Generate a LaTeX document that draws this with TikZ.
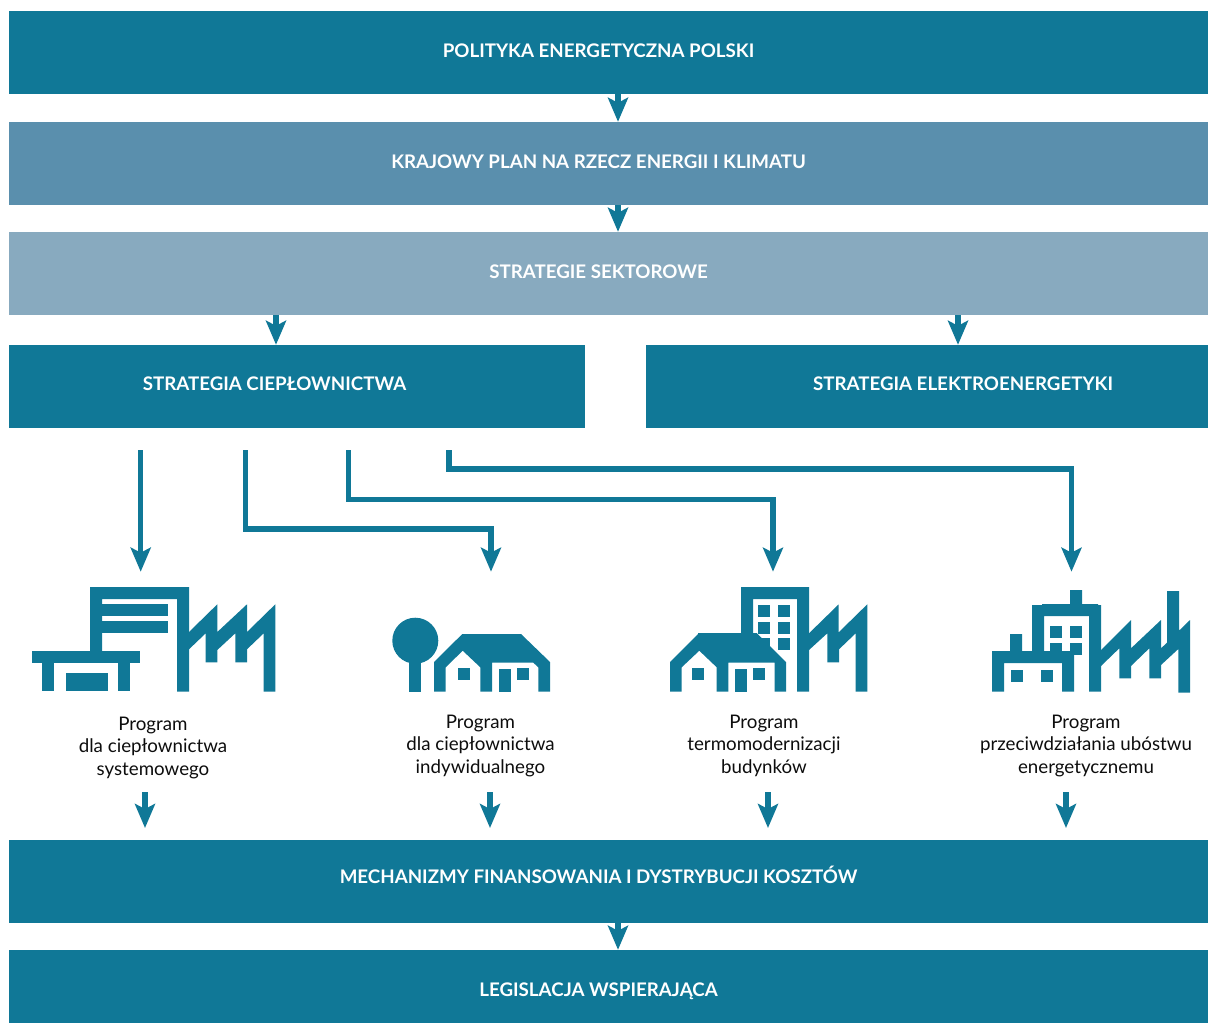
\documentclass[tikz,border=0pt]{standalone}
\usepackage{fontspec}
\setmainfont{Lato}
\usetikzlibrary{arrows.meta}
\definecolor{tealA}{HTML}{107897}
\definecolor{tealB}{HTML}{5A8FAD}
\definecolor{tealC}{HTML}{88AABF}
\tikzset{
  bandbox/.style={rectangle,draw=none,inner sep=0pt,minimum height=83bp,fill=tealA},
  headtext/.style={text=white,font=\fontsize{18.8}{22}\selectfont\bfseries,inner sep=0pt},
  progtext/.style={text=black!95,align=center,font=\fontsize{18.8}{22.6}\selectfont,inner sep=0pt},
  flow/.style={draw=tealA,line width=5.2bp,-{Stealth[length=24bp,width=20bp,inset=5bp]}},
  icon/.style={fill=tealA,draw=none}
}
\begin{document}
\begin{tikzpicture}[x=1bp,y=-1bp]
\useasboundingbox (0,0) rectangle (1208,1023);
% bands
\node[bandbox,minimum width=1199bp] (polityka) at (608.5,52.5) {};
\node[bandbox,minimum width=1199bp,fill=tealB] (krajowy) at (608.5,163.5) {};
\node[bandbox,minimum width=1199bp,fill=tealC] (sektor) at (608.5,273.5) {};
\node[bandbox,minimum width=576bp] (cieplo) at (297,386.5) {};
\node[bandbox,minimum width=562bp] (elektro) at (927,386.5) {};
\node[bandbox,minimum width=1199bp] (mechanizmy) at (608.5,881.5) {};
\node[bandbox,minimum width=1199bp,minimum height=73bp] (legislacja) at (608.5,986.5) {};
% band texts
\node[headtext] (t1) at (598.5,50.5) {POLITYKA ENERGETYCZNA POLSKI};
\node[headtext] (t2) at (598.5,161.5) {KRAJOWY PLAN NA RZECZ ENERGII I KLIMATU};
\node[headtext] (t3) at (598.5,271.5) {STRATEGIE SEKTOROWE};
\node[headtext] (t4) at (274.5,383.5) {STRATEGIA CIEPŁOWNICTWA};
\node[headtext] (t5) at (963,383.5) {STRATEGIA ELEKTROENERGETYKI};
\node[headtext] (t6) at (598.5,874.5) {MECHANIZMY FINANSOWANIA I DYSTRYBUCJI KOSZTÓW};
\node[headtext] (t7) at (598.5,991) {LEGISLACJA WSPIERAJĄCA};
% program texts
\node[progtext] (p1) at (153,747.6) {Program\\dla ciepłownictwa\\systemowego};
\node[progtext] (p2) at (480.5,745.6) {Program\\dla ciepłownictwa\\indywidualnego};
\node[progtext] (p3) at (764,745.6) {Program\\termomodernizacji\\budynków};
\node[progtext] (p4) at (1086,745.6) {Program\\przeciwdziałania ubóstwu\\energetycznemu};
% helper coordinates
\coordinate (main) at (618,0);
\coordinate (left) at (276,0);
\coordinate (right) at (958,0);
\coordinate (s1) at (140.7,450); \coordinate (e1) at (140.7,571.7);
\coordinate (s2) at (245.7,450); \coordinate (e2) at (491,571.7);
\coordinate (s3) at (348.3,450); \coordinate (e3) at (773,571.7);
\coordinate (s4) at (449,450);   \coordinate (e4) at (1071.5,571.7);
\coordinate (d1s) at (145,792); \coordinate (d1e) at (145,828);
\coordinate (d2s) at (490,792); \coordinate (d2e) at (490,828);
\coordinate (d3s) at (768,792); \coordinate (d3e) at (768,828);
\coordinate (d4s) at (1066,792); \coordinate (d4e) at (1066,828);
% connectors
\draw[flow] (polityka.south -| main) -- (krajowy.north -| main);
\draw[flow] (krajowy.south -| main) -- (sektor.north -| main);
\draw[flow] (sektor.south -| left) -- (cieplo.north -| left);
\draw[flow] (sektor.south -| right) -- (elektro.north -| right);
\draw[flow] (mechanizmy.south -| main) -- (legislacja.north -| main);
\draw[flow] (s1) -- (e1);
\draw[flow] (s2) |- (491,529) -- (e2);
\draw[flow] (s3) |- (773,499.3) -- (e3);
\draw[flow] (s4) |- (1071.5,469) -- (e4);
\draw[flow] (d1s) -- (d1e);
\draw[flow] (d2s) -- (d2e);
\draw[flow] (d3s) -- (d3e);
\draw[flow] (d4s) -- (d4e);
% icon 1
\fill[icon] (90,651) -- (90,587) -- (189,587) -- (189,691.7) -- (177,691.7) -- (177,599) -- (102,599) -- (102,651) -- cycle;
\fill[icon] (102,604) rectangle (168,616);
\fill[icon] (102,621) rectangle (168,633);
\fill[icon] (32,651) rectangle (140,663);
\fill[icon] (42,663) rectangle (54,691);
\fill[icon] (118,663) rectangle (130,691);
\fill[icon] (66,673) rectangle (108,691);
\fill[icon] (189,632) -- (217.3,604.3) -- (217.3,632) -- (247,604.3) -- (247,632) -- (275.3,604.3) -- (275.3,691.7) -- (263.7,691.7) -- (263.7,633.3) -- (247,649.3) -- (247,662.3) -- (235.3,662.3) -- (235.3,633.3) -- (217.3,650) -- (217.3,662.3) -- (205.7,662.3) -- (205.7,633.3) -- (189,649.3) -- cycle;
% icon 2
\fill[icon] (415.3,640.7) circle[radius=23];
\fill[icon] (409,655) rectangle (421,691.7);
\fill[icon] (434,691.7) -- (434,662) -- (462.3,634) -- (521,634) -- (550,662) -- (550,691.7) -- (538.3,691.7) -- (538.3,667.3) -- (533.3,662.7) -- (492,662.7) -- (492,691.7) -- (480.3,691.7) -- (480.3,667.3) -- (462.7,650.7) -- (445.7,667.3) -- (445.7,691.7) -- cycle;
\fill[icon] (458,668) rectangle (470,680);
\fill[icon] (499,669) rectangle (511,691.7);
\fill[icon] (517,668) rectangle (529,680);
% icon 3
\fill[icon] (741,640) -- (741,587) -- (809,587) -- (809,691.7) -- (797,691.7) -- (797,599) -- (753,599) -- (753,640) -- cycle;
\fill[icon] (758,605) rectangle (770,617);
\fill[icon] (778,605) rectangle (790,617);
\fill[icon] (758,622) rectangle (770,634);
\fill[icon] (778,622) rectangle (790,634);
\fill[icon] (758,638) rectangle (770,650);
\fill[icon] (778,638) rectangle (790,650);
\fill[icon] (670,691.7) -- (670,662) -- (698,634) -- (698,633) -- (756.7,633) -- (786,662) -- (786,691.7) -- (774.7,691.7) -- (774.7,662.7) -- (728.3,662.7) -- (728.3,691.7) -- (716.7,691.7) -- (716.7,667.3) -- (699.3,650.7) -- (681.7,667.3) -- (681.7,691.7) -- cycle;
\fill[icon] (692,668) rectangle (704,680);
\fill[icon] (735,669) rectangle (747,691.7);
\fill[icon] (753,668) rectangle (765,680);
\fill[icon] (809,633.3) -- (838.7,604.3) -- (838.7,632.3) -- (867.3,604.3) -- (867.3,691.7) -- (855.7,691.7) -- (855.7,633.3) -- (839,649.3) -- (839,662.3) -- (827.3,662.3) -- (827.3,633.3) -- (809,650) -- cycle;
% icon 4
\fill[icon] (1032,651) -- (1032,605) -- (1042,605) -- (1042,604) -- (1070,604) -- (1070,590) -- (1082,590) -- (1082,604) -- (1098,604) -- (1098,605) -- (1101,605) -- (1101,691.7) -- (1089,691.7) -- (1089,616) -- (1044,616) -- (1044,651) -- cycle;
\fill[icon] (1050,626) rectangle (1062,638);
\fill[icon] (1070,626) rectangle (1082,638);
\fill[icon] (1050,643) rectangle (1062,651);
\fill[icon] (1070,643) rectangle (1082,655);
\fill[icon] (992,691.7) -- (992,651) -- (1010,651) -- (1010,634) -- (1022,634) -- (1022,651) -- (1074,651) -- (1074,691.7) -- (1062,691.7) -- (1062,663) -- (1004,663) -- (1004,691.7) -- cycle;
\fill[icon] (1011,670) rectangle (1023,682);
\fill[icon] (1041,670) rectangle (1053,682);
\fill[icon] (1101,650) -- (1131,620) -- (1131,648.3) -- (1161,620) -- (1161,648.3) -- (1167,642.7) -- (1167,591) -- (1179,591) -- (1179,630.7) -- (1190,620) -- (1190,692.7) -- (1178.3,692.7) -- (1178.3,649) -- (1161,665) -- (1161,678.3) -- (1149.3,678.3) -- (1149.3,648.3) -- (1131,666) -- (1131,678.3) -- (1119.3,678.3) -- (1119.3,648.3) -- (1101,666) -- cycle;
\end{tikzpicture}
\end{document}
